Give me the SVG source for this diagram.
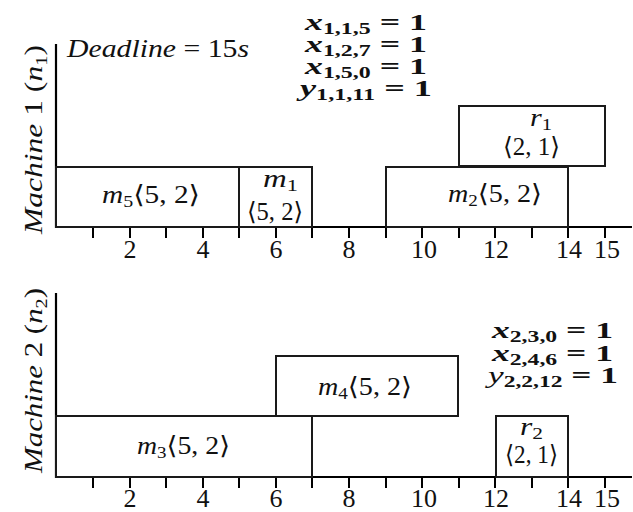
<svg xmlns="http://www.w3.org/2000/svg" width="633" height="512" viewBox="0 0 633 512" font-family="'Liberation Serif', 'DejaVu Serif', serif">
<style>
.ax{stroke:#000;stroke-width:2.2;fill:none}
.tk{stroke:#000;stroke-width:2;fill:none}
.bx{stroke:#1a1a1a;stroke-width:2;fill:#fff}
text{fill:#111}
.m{font-size:25px}
.i{font-style:italic}
.s{font-size:17px;font-style:normal}
.num{font-size:26px;text-anchor:middle}
.eq{font-size:24px;font-weight:bold}
.eqs{font-size:16px;font-weight:bold;font-style:normal}
.lab{font-size:26px;font-style:italic}
</style>
<defs>
<g id="ticks">
<path class="tk" d="M93,0v11M130,0v11M166,0v11M203,0v11M239,0v11M276,0v11M312,0v11M349,0v11M386,0v11M422,0v11M459,0v11M495,0v11M532,0v11M568,0v11M605,0v11"/>
</g>
</defs>

<g id="chart1">
<g id="axes1">
<path class="ax" d="M56,44V227H632"/>
<use href="#ticks" y="227"/>
<text class="num" x="130" y="258">2</text>
<text class="num" x="203" y="258">4</text>
<text class="num" x="276" y="258">6</text>
<text class="num" x="349" y="258">8</text>
<text class="num" x="424" y="258">10</text>
<text class="num" x="496" y="258">12</text>
<text class="num" x="569" y="258">14</text>
<text class="num" x="607" y="258">15</text>
<text class="lab" transform="translate(42,234) rotate(-90)" textLength="189" lengthAdjust="spacingAndGlyphs">Machine <tspan font-style="normal">1 (</tspan>n<tspan class="s" dy="5">1</tspan><tspan font-style="normal" dy="-5">)</tspan></text>
<text class="m i" x="67" y="57" font-size="26" textLength="182" lengthAdjust="spacingAndGlyphs">Deadline <tspan font-style="normal">= 15</tspan>s</text>
</g>
<g id="eq1">
<text class="eq" x="305" y="30" textLength="122" lengthAdjust="spacingAndGlyphs"><tspan font-style="italic">x</tspan><tspan class="eqs" dy="4">1,1,5</tspan><tspan dy="-4"> = 1</tspan></text>
<text class="eq" x="305" y="52" textLength="122" lengthAdjust="spacingAndGlyphs"><tspan font-style="italic">x</tspan><tspan class="eqs" dy="4">1,2,7</tspan><tspan dy="-4"> = 1</tspan></text>
<text class="eq" x="305" y="74" textLength="122" lengthAdjust="spacingAndGlyphs"><tspan font-style="italic">x</tspan><tspan class="eqs" dy="4">1,5,0</tspan><tspan dy="-4"> = 1</tspan></text>
<text class="eq" x="300" y="96" textLength="132" lengthAdjust="spacingAndGlyphs"><tspan font-style="italic">y</tspan><tspan class="eqs" dy="4">1,1,11</tspan><tspan dy="-4"> = 1</tspan></text>
</g>
<g id="m5">
<rect class="bx" x="56" y="167" width="183" height="60"/>
<text class="m" x="102" y="203" textLength="98" lengthAdjust="spacingAndGlyphs"><tspan class="i">m</tspan><tspan class="s" dy="4">5</tspan><tspan dy="-4">⟨5, 2⟩</tspan></text>
</g>
<g id="m1">
<rect class="bx" x="239" y="167" width="73" height="60"/>
<text class="m" x="263" y="187" textLength="35" lengthAdjust="spacingAndGlyphs"><tspan class="i">m</tspan><tspan class="s" dy="4">1</tspan></text>
<text class="m" x="247" y="220" textLength="56" lengthAdjust="spacingAndGlyphs">⟨5, 2⟩</text>
</g>
<g id="m2">
<rect class="bx" x="386" y="167" width="182" height="60"/>
<text class="m" x="448" y="202" textLength="94" lengthAdjust="spacingAndGlyphs"><tspan class="i">m</tspan><tspan class="s" dy="4">2</tspan><tspan dy="-4">⟨5, 2⟩</tspan></text>
</g>
<g id="r1">
<rect class="bx" x="459" y="106" width="146" height="60"/>
<text class="m" x="530" y="126" textLength="22" lengthAdjust="spacingAndGlyphs"><tspan class="i">r</tspan><tspan class="s" dy="4">1</tspan></text>
<text class="m" x="503" y="155" textLength="57" lengthAdjust="spacingAndGlyphs">⟨2, 1⟩</text>
</g>
</g>

<g id="chart2">
<g id="axes2">
<path class="ax" d="M56,293V477H632"/>
<use href="#ticks" y="477"/>
<text class="num" x="130" y="507">2</text>
<text class="num" x="203" y="507">4</text>
<text class="num" x="276" y="507">6</text>
<text class="num" x="349" y="507">8</text>
<text class="num" x="424" y="507">10</text>
<text class="num" x="496" y="507">12</text>
<text class="num" x="569" y="507">14</text>
<text class="num" x="607" y="507">15</text>
<text class="lab" transform="translate(42,473) rotate(-90)" textLength="185" lengthAdjust="spacingAndGlyphs">Machine <tspan font-style="normal">2 (</tspan>n<tspan class="s" dy="5">2</tspan><tspan font-style="normal" dy="-5">)</tspan></text>
</g>
<g id="eq2">
<text class="eq" x="492" y="338" textLength="121" lengthAdjust="spacingAndGlyphs"><tspan font-style="italic">x</tspan><tspan class="eqs" dy="4">2,3,0</tspan><tspan dy="-4"> = 1</tspan></text>
<text class="eq" x="492" y="361" textLength="121" lengthAdjust="spacingAndGlyphs"><tspan font-style="italic">x</tspan><tspan class="eqs" dy="4">2,4,6</tspan><tspan dy="-4"> = 1</tspan></text>
<text class="eq" x="488" y="383" textLength="130" lengthAdjust="spacingAndGlyphs"><tspan font-style="italic" font-weight="normal">y</tspan><tspan class="eqs" dy="4">2,2,12</tspan><tspan dy="-4"> = 1</tspan></text>
</g>
<g id="m3">
<rect class="bx" x="56" y="416" width="256" height="61"/>
<text class="m" x="137" y="454" textLength="93" lengthAdjust="spacingAndGlyphs"><tspan class="i">m</tspan><tspan class="s" dy="4">3</tspan><tspan dy="-4">⟨5, 2⟩</tspan></text>
</g>
<g id="m4">
<rect class="bx" x="276" y="356" width="182" height="60"/>
<text class="m" x="318" y="395" textLength="94" lengthAdjust="spacingAndGlyphs"><tspan class="i">m</tspan><tspan class="s" dy="4">4</tspan><tspan dy="-4">⟨5, 2⟩</tspan></text>
</g>
<g id="r2">
<rect class="bx" x="496" y="416" width="72" height="61"/>
<text class="m" x="520" y="435" textLength="23" lengthAdjust="spacingAndGlyphs"><tspan class="i">r</tspan><tspan class="s" dy="4">2</tspan></text>
<text class="m" x="505" y="463" textLength="53" lengthAdjust="spacingAndGlyphs">⟨2, 1⟩</text>
</g>
</g>
<g id="connectors"/>
</svg>
